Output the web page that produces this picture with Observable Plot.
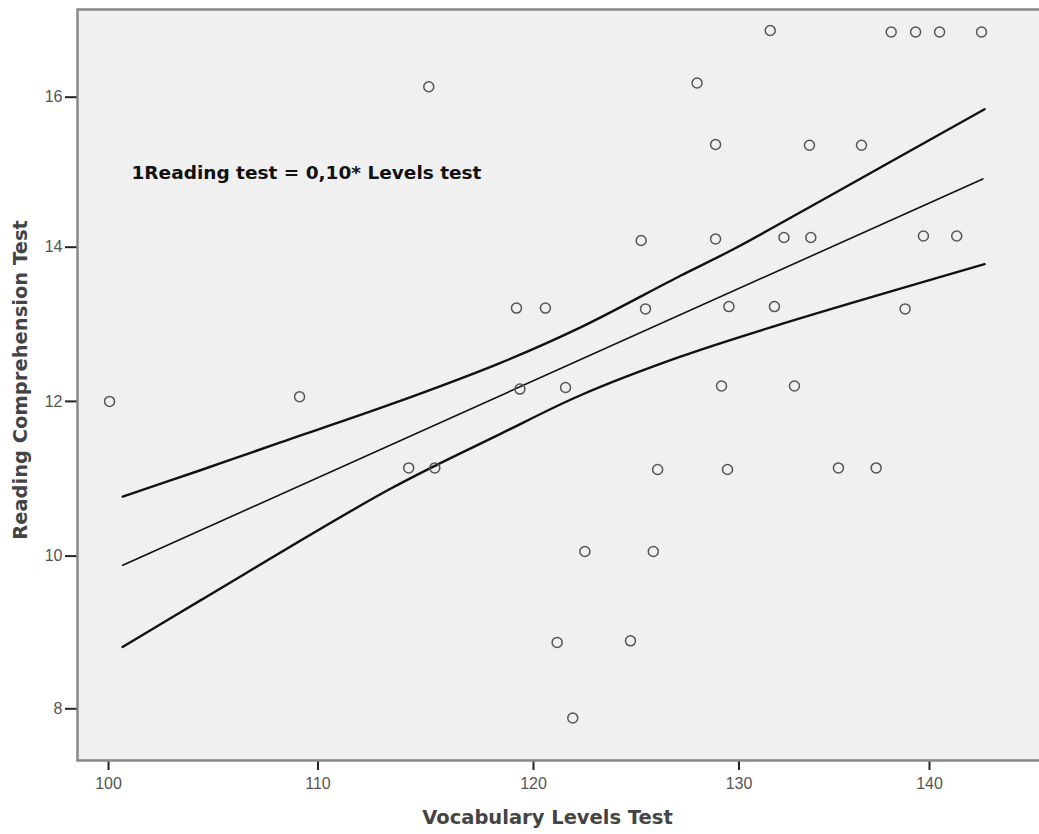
<!DOCTYPE html>
<html>
<head>
<meta charset="utf-8">
<script src="https://cdn.jsdelivr.net/npm/d3@7"></script>
<script src="https://cdn.jsdelivr.net/npm/@observablehq/plot@0.6"></script>
<style>
  html, body { margin: 0; padding: 0; background: #fff; overflow: hidden; }
  #chart svg { display: block; overflow: hidden !important; }
  #chart g[aria-label="x-axis tick"] path,
  #chart g[aria-label="y-axis tick"] path { stroke-width: 2; }
  #chart g[aria-label="x-axis tick label"] text,
  #chart g[aria-label="y-axis tick label"] text { fill: #555; }
</style>
</head>
<body>
<div id="chart"></div>
<script>
// Scatter points: Vocabulary Levels Test (x) vs Reading Comprehension Test (y)
const vocab = [100.05, 109.12, 115.14, 114.21, 115.42, 119.21, 120.58, 119.37, 121.56, 122.50,
               121.15, 121.91, 125.24, 125.45, 126.04, 125.83, 124.72, 127.96, 128.86, 128.86,
               129.51, 129.15, 129.44, 131.64, 132.36, 131.86, 132.91, 133.70, 133.77, 135.22,
               136.43, 137.20, 137.99, 139.27, 140.53, 142.73, 139.68, 141.43, 138.72];
const reading = [12.00, 12.06, 16.14, 11.14, 11.14, 13.21, 13.21, 12.16, 12.18, 10.06,
                 8.87, 7.88, 14.09, 13.20, 11.12, 10.06, 8.89, 16.19, 15.37, 14.11,
                 13.23, 12.20, 11.12, 16.89, 14.13, 13.23, 12.20, 15.36, 14.13, 11.14,
                 15.36, 11.14, 16.87, 16.87, 16.87, 16.87, 14.15, 14.15, 13.20];

// Fit line and confidence curves
const fitX = [100.68, 142.80];
const fitY = [9.88, 14.91];
const upperX = [100.68, 104.39, 108.21, 113.36, 118.47, 122.29, 127.15, 129.77, 134.80, 142.89];
const upperY = [10.77, 11.11, 11.47, 11.96, 12.50, 12.96, 13.63, 13.98, 14.69, 15.84];
const lowerX = [100.67, 104.39, 113.36, 118.47, 122.29, 127.15, 131.92, 142.89];
const lowerY = [8.81, 9.42, 10.87, 11.58, 12.08, 12.58, 12.98, 13.78];

// Tick labels and texts
const xTicks = [100, 110, 120, 130, 140];
const yTicks = [8, 10, 12, 14, 16];
const xTitle = "Vocabulary Levels Test";
const yTitle = "Reading Comprehension Test";
const equation = "1Reading test = 0,10* Levels test";

const points = vocab.map((v, i) => ({x: v, y: reading[i]}));
const pair = (xs, ys) => xs.map((x, i) => ({x, y: ys[i]}));

const boldFont = "'DejaVu Sans', Verdana, sans-serif";

const chart = Plot.plot({
  width: 1039,
  height: 834,
  marginLeft: 77,
  marginTop: 9,
  marginRight: -6,
  marginBottom: 74,
  style: {background: "#fff", color: "#222", fontFamily: "'Liberation Sans', Arial, sans-serif", fontSize: "16px", overflow: "hidden"},
  x: {type: "linear", domain: xTicks, range: [108, 317.5, 533, 738.5, 929], ticks: xTicks, tickSize: 10, tickPadding: 7, label: null},
  y: {type: "linear", domain: yTicks, range: [708.3, 555.6, 400.9, 246.7, 96.7], ticks: yTicks, tickSize: 12, tickPadding: 3, label: null},
  marks: [
    Plot.frame({fill: "#f0f0f0"}),
    Plot.line(pair(upperX, upperY), {x: "x", y: "y", stroke: "#111", strokeWidth: 2.4, curve: "catmull-rom"}),
    Plot.line(pair(fitX, fitY), {x: "x", y: "y", stroke: "#111", strokeWidth: 1.6}),
    Plot.line(pair(lowerX, lowerY), {x: "x", y: "y", stroke: "#111", strokeWidth: 2.4, curve: "catmull-rom"}),
    Plot.dot(points, {x: "x", y: "y", r: 5, stroke: "#555", strokeWidth: 1.5, fill: "none"}),
    Plot.text([equation], {frameAnchor: "top-left", dx: 54, dy: 164, textAnchor: "start", lineAnchor: "middle", text: d => d,
      fontFamily: boldFont, fontWeight: "bold", fontSize: 18.5, fill: "#111"}),
    Plot.text([xTitle], {frameAnchor: "bottom", dx: -14, dy: 57, textAnchor: "middle", lineAnchor: "middle", text: d => d,
      fontFamily: boldFont, fontWeight: "bold", fontSize: 19.5, fill: "#444"}),
    Plot.text([yTitle], {frameAnchor: "left", dx: -57, dy: -5, rotate: -90, textAnchor: "middle", lineAnchor: "middle", text: d => d,
      fontFamily: boldFont, fontWeight: "bold", fontSize: 19.5, fill: "#444"}),
    Plot.frame({stroke: "#888", strokeWidth: 2.5})
  ]
});
document.getElementById("chart").append(chart);
</script>
</body>
</html>
